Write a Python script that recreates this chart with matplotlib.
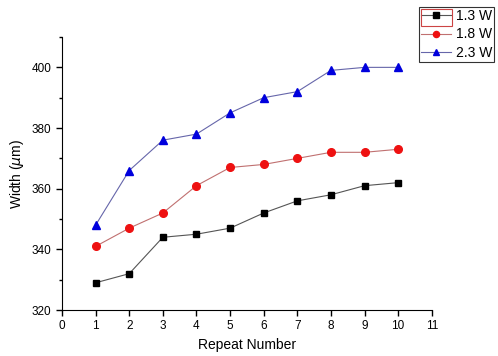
#!/usr/bin/env python3
import matplotlib

matplotlib.use("Agg")

import matplotlib.pyplot as plt
from matplotlib.patches import Rectangle
from matplotlib.ticker import MultipleLocator

repeat_number = [1, 2, 3, 4, 5, 6, 7, 8, 9, 10]
width_13w = [329, 332, 344, 345, 347, 352, 356, 358, 361, 362]
width_18w = [341, 347, 352, 361, 367, 368, 370, 372, 372, 373]
width_23w = [348, 366, 376, 378, 385, 390, 392, 399, 400, 400]
labels = ["1.3 W", "1.8 W", "2.3 W"]

plt.rcParams["font.family"] = ["Liberation Sans", "DejaVu Sans"]

fig = plt.figure(figsize=(4.98, 3.56), dpi=100)
ax = fig.add_axes([0.1245, 0.129, 0.7425, 0.767])

ax.plot(repeat_number, width_13w, color="#555555", linewidth=0.8,
        marker="s", markersize=5, markerfacecolor="black",
        markeredgecolor="black", label=labels[0])
ax.plot(repeat_number, width_18w, color="#c07070", linewidth=0.8,
        marker="o", markersize=5.5, markerfacecolor="#ee1111",
        markeredgecolor="#ee1111", label=labels[1])
ax.plot(repeat_number, width_23w, color="#6666aa", linewidth=0.8,
        marker="^", markersize=6, markerfacecolor="#0000dd",
        markeredgecolor="#0000dd", label=labels[2])

ax.set_xlim(0, 11)
ax.set_ylim(320, 410)
ax.xaxis.set_major_locator(MultipleLocator(1))
ax.yaxis.set_major_locator(MultipleLocator(20))
ax.yaxis.set_minor_locator(MultipleLocator(10))
ax.spines["top"].set_visible(False)
ax.spines["right"].set_visible(False)
ax.tick_params(direction="out", length=4, width=1, labelsize=8.5)
ax.tick_params(which="minor", direction="out", length=2.5, width=1)
ax.set_xlabel("Repeat Number", fontsize=10)
ax.set_ylabel("Width ($\\mu$m)", fontsize=10)

leg = fig.legend(loc="upper left", bbox_to_anchor=(0.841, 0.98),
                 frameon=True, fancybox=False, fontsize=10,
                 handlelength=2.2, borderpad=0.15, labelspacing=0.3,
                 handletextpad=0.3, borderaxespad=0, markerscale=0.8)
leg.get_frame().set_edgecolor("black")
leg.get_frame().set_linewidth(0.8)

# red selection box round the first legend handle
fig.patches.append(Rectangle((421 / 498, 1 - 26 / 356), 31 / 498, 17 / 356,
                             transform=fig.transFigure, fill=False,
                             edgecolor="#cc4444", linewidth=0.8, zorder=10))

fig.savefig("out.png", dpi=100)
